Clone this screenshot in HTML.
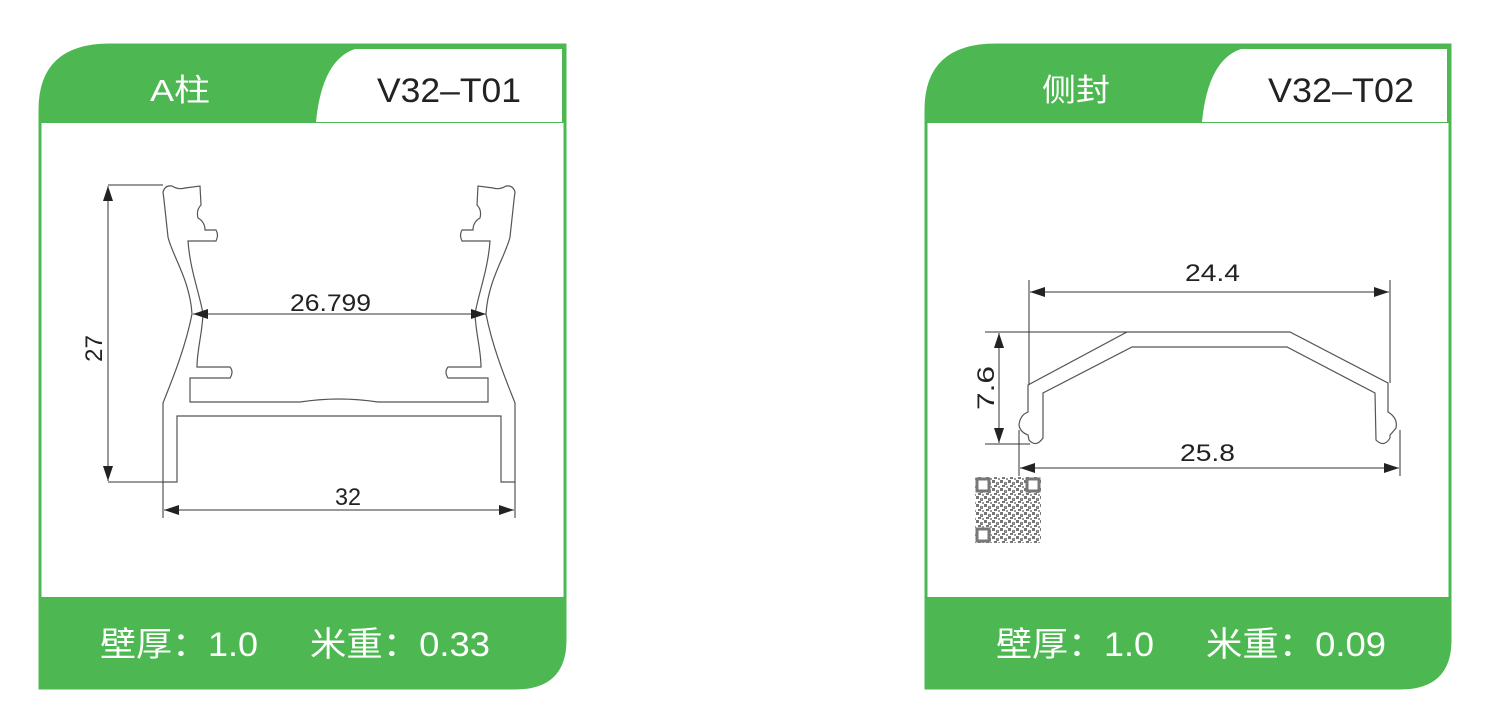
<!DOCTYPE html>
<html><head><meta charset="utf-8"><style>
html,body{margin:0;padding:0;background:#fff;}
svg{display:block}
</style></head><body>
<svg width="1500" height="721" viewBox="0 0 1500 721" xmlns="http://www.w3.org/2000/svg">
<defs>
<marker id="ar" viewBox="0 0 12 8" refX="12" refY="4" markerWidth="16" markerHeight="10" markerUnits="userSpaceOnUse" orient="auto-start-reverse"><path d="M0 0 L12 4 L0 8 Z" fill="#222"/></marker>
<pattern id="qr" width="8" height="8" patternUnits="userSpaceOnUse"><rect width="8" height="8" fill="#fff"/><rect x="0" y="0" width="3" height="3" fill="#777"/><rect x="4" y="2" width="3" height="3" fill="#888"/><rect x="2" y="5" width="3" height="2" fill="#777"/><rect x="6" y="6" width="2" height="2" fill="#999"/></pattern>
</defs>

<!-- LEFT CARD -->
<g font-family="Liberation Sans, Noto Sans CJK SC, sans-serif">
<path d="M40 688 L40 110 Q40 45 110 45 L565 45 L565 640 Q565 688 515 688 Z" fill="#fff" stroke="#4db852" stroke-width="3"/>
<path d="M40 123 L40 110 Q40 45 110 45 L565 45 L565 123 Z" fill="#4db852"/>
<path d="M316 122 Q322 60 355 49 L562 49 L562 122 Z" fill="#fff"/>
<path d="M40 597 L565 597 L565 640 Q565 688 515 688 L40 688 Z" fill="#4db852"/>
<text x="150" y="101" font-size="31" fill="#fff" textLength="60" lengthAdjust="spacingAndGlyphs">A柱</text>
<text x="377" y="102" font-size="34" fill="#222" textLength="144" lengthAdjust="spacingAndGlyphs">V32–T01</text>
<text x="100" y="656" font-size="34" fill="#fff" textLength="158" lengthAdjust="spacingAndGlyphs">壁厚：1.0</text>
<text x="310" y="656" font-size="34" fill="#fff" textLength="180" lengthAdjust="spacingAndGlyphs">米重：0.33</text>
</g>

<!-- left profile -->
<g fill="none" stroke="#555" stroke-width="1.2">
<g id="lh">
<path d="M163 482 L163 403 C170 385 185 350 192 314 C190 280 172 255 168 237 L164 200 L163 192 Q165 185 172 186 Q178 190 185 188 L200 186 L201 205 Q196 210 198 218 Q205 222 205 230 L216 230 Q219 235 216 241 L188 241 C190 270 200 295 203 314 C202 335 197 350 197 367 L230 367 Q234 372 230 378 L190 378 L190 402 L300 402 Q320 399 339 399"/>
<path d="M339 416 L177 416 L177 482 L163 482"/>
</g>
<use href="#lh" transform="translate(678,0) scale(-1,1)"/>
</g>
<g stroke="#333" stroke-width="1" fill="none">
<line x1="108" y1="185" x2="163" y2="185"/>
<line x1="108" y1="482" x2="163" y2="482"/>
<line x1="108" y1="186" x2="108" y2="481" marker-start="url(#ar)" marker-end="url(#ar)"/>
<line x1="193" y1="314" x2="486" y2="314" marker-start="url(#ar)" marker-end="url(#ar)"/>
<line x1="163" y1="482" x2="163" y2="518"/>
<line x1="515" y1="482" x2="515" y2="518"/>
<line x1="164" y1="510" x2="514" y2="510" marker-start="url(#ar)" marker-end="url(#ar)"/>
</g>
<g font-family="Liberation Sans, sans-serif" font-size="24" fill="#222">
<text x="290" y="311" textLength="81" lengthAdjust="spacingAndGlyphs">26.799</text>
<text x="335" y="505" textLength="26" lengthAdjust="spacingAndGlyphs">32</text>
<text transform="translate(102,362) rotate(-90)" textLength="27" lengthAdjust="spacingAndGlyphs">27</text>
</g>

<!-- RIGHT CARD -->
<g font-family="Liberation Sans, Noto Sans CJK SC, sans-serif">
<path d="M926 688 L926 110 Q926 45 996 45 L1450 45 L1450 640 Q1450 688 1400 688 Z" fill="#fff" stroke="#4db852" stroke-width="3"/>
<path d="M926 123 L926 110 Q926 45 996 45 L1450 45 L1450 123 Z" fill="#4db852"/>
<path d="M1202 122 Q1208 60 1241 49 L1447 49 L1447 122 Z" fill="#fff"/>
<path d="M926 597 L1450 597 L1450 640 Q1450 688 1400 688 L926 688 Z" fill="#4db852"/>
<text x="1042" y="101" font-size="31" fill="#fff" textLength="68" lengthAdjust="spacingAndGlyphs">侧封</text>
<text x="1268" y="102" font-size="34" fill="#222" textLength="146" lengthAdjust="spacingAndGlyphs">V32–T02</text>
<text x="996" y="656" font-size="34" fill="#fff" textLength="158" lengthAdjust="spacingAndGlyphs">壁厚：1.0</text>
<text x="1206" y="656" font-size="34" fill="#fff" textLength="180" lengthAdjust="spacingAndGlyphs">米重：0.09</text>
</g>

<!-- right profile -->
<g fill="none" stroke="#555" stroke-width="1.2">
<path d="M1028 385 L1127 332 L1290 332 L1388 383 L1388 412 Q1398 418 1396 428 Q1392 433 1390 435 L1390 438 Q1384 448 1376 440 L1375 393 L1287 347 L1132 347 L1043 393 L1043 438 Q1036 448 1029 440 L1028 435 Q1020 432 1019 425 Q1020 415 1028 412 Z"/>
</g>
<g stroke="#333" stroke-width="1" fill="none">
<line x1="985" y1="332" x2="1127" y2="332"/>
<line x1="985" y1="444" x2="1030" y2="444"/>
<line x1="999" y1="333" x2="999" y2="443" marker-start="url(#ar)" marker-end="url(#ar)"/>
<line x1="1029" y1="280" x2="1029" y2="385"/>
<line x1="1390" y1="280" x2="1390" y2="383"/>
<line x1="1030" y1="292" x2="1389" y2="292" marker-start="url(#ar)" marker-end="url(#ar)"/>
<line x1="1019" y1="430" x2="1019" y2="476"/>
<line x1="1400" y1="430" x2="1400" y2="476"/>
<line x1="1020" y1="468" x2="1399" y2="468" marker-start="url(#ar)" marker-end="url(#ar)"/>
</g>
<g font-family="Liberation Sans, sans-serif" font-size="24" fill="#222">
<text x="1185" y="281" textLength="55" lengthAdjust="spacingAndGlyphs">24.4</text>
<text x="1180" y="461" textLength="55" lengthAdjust="spacingAndGlyphs">25.8</text>
<text transform="translate(994,410) rotate(-90)" textLength="44" lengthAdjust="spacingAndGlyphs">7.6</text>
</g>

<!-- QR -->
<rect x="975" y="477" width="66" height="66" fill="url(#qr)"/>
<g fill="#fff" stroke="#777" stroke-width="3">
<rect x="977" y="479" width="12" height="12"/>
<rect x="1027" y="479" width="12" height="12"/>
<rect x="977" y="529" width="12" height="12"/>
</g>
</svg>
</body></html>
